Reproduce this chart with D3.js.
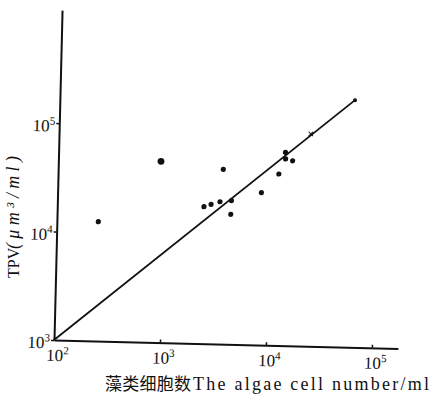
<!DOCTYPE html>
<html>
<head>
<meta charset="utf-8">
<script src="https://cdn.jsdelivr.net/npm/d3@7"></script>
<style>
  body { margin: 0; background: #fff; }
  svg { display: block; }
</style>
</head>
<body>
<div id="vis"></div>
<script>
// Frame size and where the two axes meet (the scan is tilted a little)
const FRAME_WIDTH = 432;
const FRAME_HEIGHT = 401;
const ORIGIN = {x: 54, y: 340};
const TILT = 1.4;
const X_LEN = 344;
const Y_LEN = 330;

// Data
const CELLS = [246, 929, 2420, 2820, 3420, 3610, 4380, 4350, 8360, 12100, 13800, 13900, 16200];
const TPV = [12600, 46900, 18300, 19300, 20500, 40800, 21100, 15800, 25400, 38100, 60500, 52600, 50800];
const CROSS_CELLS = [23700];
const CROSS_TPV = [90600];
const FIT_CELLS = [100, 60800];
const FIT_TPV = [1000, 190000];

// Axis domains and ticks
const X_DOMAIN = [100, 176000];
const Y_DOMAIN = [1000, 1104000];
const X_TICKS = [1e2, 1e3, 1e4, 1e5];
const Y_TICKS = [1e3, 1e4, 1e5];

const INK = "#111";
const SERIF = "'Liberation Serif', 'DejaVu Serif', serif";

const FRAME = d3.select("#vis")
  .append("svg")
    .attr("width", FRAME_WIDTH)
    .attr("height", FRAME_HEIGHT);

const X_SCALE = d3.scaleLog().domain(X_DOMAIN).range([0, X_LEN]);
const Y_SCALE = d3.scaleLog().domain(Y_DOMAIN).range([0, -Y_LEN]);

// Plot group, rotated like the scanned figure
const PLOT = FRAME.append("g")
  .attr("transform", "translate(" + ORIGIN.x + "," + ORIGIN.y + ") rotate(" + TILT + ")");

// x axis
const xAxis = PLOT.append("g")
  .call(d3.axisBottom(X_SCALE).tickValues(X_TICKS).tickSize(-3).tickSizeOuter(0).tickFormat(""));

// y axis
const yAxis = PLOT.append("g")
  .call(d3.axisLeft(Y_SCALE).tickValues(Y_TICKS).tickSize(3).tickSizeOuter(0).tickFormat(""));

[xAxis, yAxis].forEach((ax) => {
  ax.select(".domain").attr("stroke", INK).attr("stroke-width", 2);
  ax.selectAll(".tick line").attr("stroke", INK).attr("stroke-width", 1.5);
});

// power-of-ten tick labels
function powerLabel(sel, anchor) {
  sel.each(function(d) {
    const t = d3.select(this);
    t.attr("text-anchor", anchor)
      .attr("font-family", SERIF)
      .attr("font-size", 17)
      .attr("fill", INK);
    t.append("tspan").text("10");
    t.append("tspan")
      .attr("dy", -7)
      .attr("font-size", 11)
      .text(Math.round(Math.log10(d)));
  });
}

xAxis.selectAll(".tick").append("text")
  .attr("x", -8)
  .attr("y", 21)
  .call(powerLabel, "start");

yAxis.selectAll(".tick").append("text")
  .attr("x", -4)
  .attr("y", 8)
  .call(powerLabel, "end");

// fitted line
PLOT.append("path")
  .datum(d3.zip(FIT_CELLS, FIT_TPV))
  .attr("d", d3.line().x((d) => X_SCALE(d[0])).y((d) => Y_SCALE(d[1])))
  .attr("fill", "none")
  .attr("stroke", INK)
  .attr("stroke-width", 1.8);

// end dot of the line
PLOT.append("circle")
  .attr("cx", X_SCALE(FIT_CELLS[1]))
  .attr("cy", Y_SCALE(FIT_TPV[1]))
  .attr("r", 2)
  .attr("fill", INK);

// samples
PLOT.append("g")
  .selectAll("circle")
  .data(d3.zip(CELLS, TPV))
  .enter()
  .append("circle")
    .attr("cx", (d) => X_SCALE(d[0]))
    .attr("cy", (d) => Y_SCALE(d[1]))
    .attr("r", (d, i) => i === 1 ? 3.4 : 2.6)
    .attr("fill", INK);

// small cross mark on the line
PLOT.append("g")
  .selectAll("path")
  .data(d3.zip(CROSS_CELLS, CROSS_TPV))
  .enter()
  .append("path")
    .attr("transform", (d) => "translate(" + X_SCALE(d[0]) + "," + Y_SCALE(d[1]) + ")")
    .attr("d", d3.symbol(d3.symbolX, 14))
    .attr("fill", "none")
    .attr("stroke", INK)
    .attr("stroke-width", 1);

// y axis title
const yTitle = FRAME.append("g")
  .attr("transform", "translate(19,278) rotate(-90)");
yTitle.append("text")
  .attr("x", 0)
  .attr("font-family", SERIF)
  .attr("font-size", 16)
  .attr("fill", INK)
  .text("TPV");
yTitle.append("text")
  .attr("x", 29)
  .attr("font-family", SERIF)
  .attr("font-style", "italic")
  .attr("font-size", 18)
  .attr("fill", INK)
  .attr("textLength", 93)
  .attr("lengthAdjust", "spacing")
  .text("(μm³/ml)");

// x axis title
FRAME.append("text")
  .attr("x", 105)
  .attr("y", 390)
  .attr("font-family", "'Noto Sans CJK SC', sans-serif")
  .attr("font-size", 17)
  .attr("fill", INK)
  .attr("textLength", 86)
  .attr("lengthAdjust", "spacing")
  .text("藻类细胞数");
FRAME.append("text")
  .attr("x", 193)
  .attr("y", 390)
  .attr("font-family", SERIF)
  .attr("font-size", 18)
  .attr("fill", INK)
  .attr("textLength", 236)
  .attr("lengthAdjust", "spacing")
  .text("The algae cell number/ml");
</script>
</body>
</html>
